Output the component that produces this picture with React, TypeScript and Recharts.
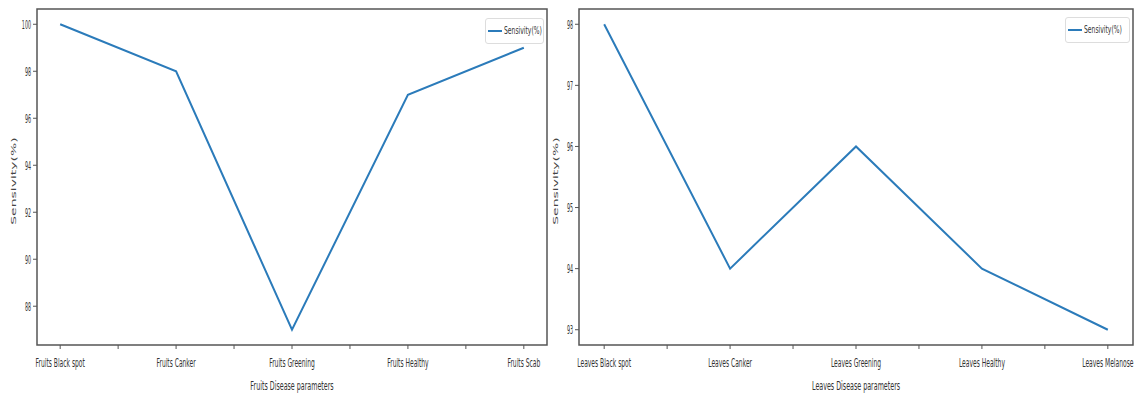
import { LineChart, Line, XAxis, YAxis, ReferenceArea } from 'recharts';

const fruitCategories = ['Fruits Black spot', 'Fruits Canker', 'Fruits Greening', 'Fruits Healthy', 'Fruits Scab'];
const fruitSensitivity = [100, 98, 87, 97, 99];
const fruitTicks = [88, 90, 92, 94, 96, 98, 100];

const leafCategories = ['Leaves Black spot', 'Leaves Canker', 'Leaves Greening', 'Leaves Healthy', 'Leaves Melanose'];
const leafSensitivity = [98, 94, 96, 94, 93];
const leafTicks = [93, 94, 95, 96, 97, 98];

const xTicks = [0, 0.5, 1, 1.5, 2, 2.5, 3, 3.5, 4];
const FRAME = '#555';
const LINE = '#2b7bba';
const FONT = '"DejaVu Sans", sans-serif';

interface PanelProps {
  categories: string[];
  values: number[];
  yTicks: number[];
  xLabel: string;
  width: number;
  yAxisWidth: number;
  rightMargin: number;
  legendLeft: number;
  legendWidth: number;
  legendTop: number;
}

function Panel({ categories, values, yTicks, xLabel, width, yAxisWidth, rightMargin, legendLeft, legendWidth, legendTop }: PanelProps) {
  const data = values.map((v, i) => ({ idx: i, name: categories[i], value: v }));
  const lo = Math.min(...values);
  const hi = Math.max(...values);
  const pad = (hi - lo) * 0.05;
  const yMin = lo - pad;
  const yMax = hi + pad;
  const plotLeft = yAxisWidth;
  const plotRight = width - rightMargin;
  const plotCenter = (plotLeft + plotRight) / 2;

  const XTick = (props: any) => {
    const { x, y, payload } = props;
    const v = payload.value;
    if (!Number.isInteger(v)) return null;
    return (
      <g transform={`translate(${x},${y})`}>
        <text transform="scale(0.5,1)" textAnchor="middle" dy={16} fontSize={12} fontFamily={FONT} fill="#333">
          {categories[v]}
        </text>
      </g>
    );
  };

  const YTick = (props: any) => {
    const { x, y, payload } = props;
    return (
      <g transform={`translate(${x},${y})`}>
        <text transform="scale(0.4,1)" textAnchor="end" dy={4.5} fontSize={12} fontFamily={FONT} fill="#333">
          {payload.value}
        </text>
      </g>
    );
  };

  return (
    <div style={{ position: 'relative', width, height: 395 }}>
      <LineChart width={width} height={395} data={data} margin={{ top: 9, right: rightMargin, bottom: 0, left: 0 }}>
        <XAxis
          dataKey="idx"
          type="number"
          domain={[-0.2, 4.2]}
          ticks={xTicks}
          interval={0}
          height={50}
          axisLine={false}
          tickSize={4}
          tickLine={{ stroke: FRAME }}
          tick={<XTick />}
          label={{
            content: () => (
              <g transform={`translate(${plotCenter},390)`}>
                <text transform="scale(0.53,1)" textAnchor="middle" fontSize={12} fontFamily={FONT} fill="#333">
                  {xLabel}
                </text>
              </g>
            ),
          }}
        />
        <YAxis
          type="number"
          domain={[yMin, yMax]}
          ticks={yTicks}
          interval={0}
          width={yAxisWidth}
          axisLine={false}
          tickSize={4}
          tickLine={{ stroke: FRAME }}
          tick={<YTick />}
          label={{
            content: () => (
              <g transform={`translate(${plotLeft - 21},181)`}>
                <text transform="scale(0.5,1) rotate(-90)" textAnchor="middle" fontSize={14} fontFamily={FONT} fill="#444">
                  Sensivity(%)
                </text>
              </g>
            ),
          }}
        />
        <ReferenceArea
          x1={-0.2}
          x2={4.2}
          y1={yMin}
          y2={yMax}
          fill="none"
          stroke={FRAME}
          strokeWidth={1.5}
          ifOverflow="visible"
        />
        <Line
          type="linear"
          dataKey="value"
          stroke={LINE}
          strokeWidth={2}
          dot={false}
          isAnimationActive={false}
        />
      </LineChart>
      <div
        style={{
          position: 'absolute',
          left: legendLeft,
          top: legendTop,
          boxSizing: 'border-box',
          width: legendWidth,
          height: 26,
          border: '1px solid #ddd',
          borderRadius: 3,
          background: '#fff',
          whiteSpace: 'nowrap',
        }}
      >
        <div style={{ position: 'absolute', left: 2, top: 11, width: 14, height: 2, background: LINE }} />
        <div
          style={{
            position: 'absolute',
            left: 18,
            top: 5,
            fontFamily: FONT,
            fontSize: 11,
            lineHeight: '14px',
            color: '#333',
            transform: 'scaleX(0.55)',
            transformOrigin: 'left center',
          }}
        >
          Sensivity(%)
        </div>
      </div>
    </div>
  );
}

export default function App() {
  return (
    <div style={{ position: 'absolute', left: 0, top: 0, width: 1139, height: 395, background: '#fff' }}>
      <div style={{ position: 'absolute', left: 0, top: 0 }}>
        <Panel
          categories={fruitCategories}
          values={fruitSensitivity}
          yTicks={fruitTicks}
          xLabel="Fruits Disease parameters"
          width={556}
          yAxisWidth={37}
          rightMargin={9}
          legendLeft={485}
          legendWidth={59}
          legendTop={18}
        />
      </div>
      <div style={{ position: 'absolute', left: 546, top: 0 }}>
        <Panel
          categories={leafCategories}
          values={leafSensitivity}
          yTicks={leafTicks}
          xLabel="Leaves Disease parameters"
          width={593}
          yAxisWidth={33}
          rightMargin={6}
          legendLeft={519}
          legendWidth={65}
          legendTop={17}
        />
      </div>
    </div>
  );
}
